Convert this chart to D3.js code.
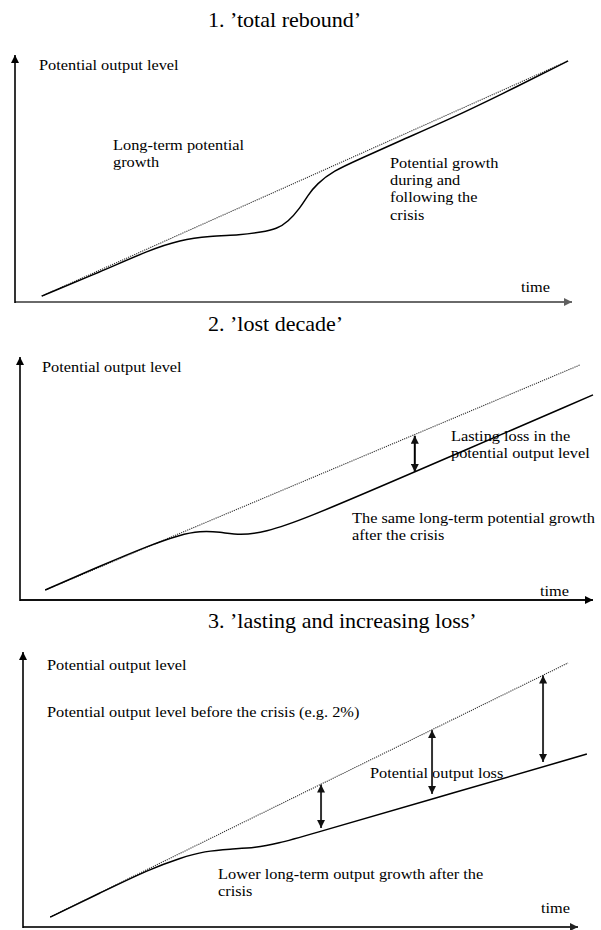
<!DOCTYPE html>
<html><head><meta charset="utf-8">
<script src="https://cdn.jsdelivr.net/npm/d3@7"></script>
<style>html,body{margin:0;padding:0;background:#fff}svg{display:block}</style>
</head><body><svg id="c" width="601" height="930"></svg>
<script>
// ---------------- data (time 0-100, potential output level 0-100) ----------------
const titles = ["1. \u2019total rebound\u2019", "2. \u2019lost decade\u2019", "3. \u2019lasting and increasing loss\u2019"];

// Panel 1: total rebound
const trend1T = [4.8, 99.3];
const trend1V = [2.4, 97.6];
const path1T = [4.8, 15.3, 24.2, 29.6, 35.0, 40.4, 44.3, 47.0, 49.0, 51.2, 52.6, 54.2, 57.1, 61.9, 69.1, 78.1, 87.1, 99.3];
const path1V = [2.4, 12.2, 21.1, 25.1, 26.7, 27.1, 28.3, 29.6, 32.4, 38.1, 43.3, 47.8, 53.0, 57.9, 65.2, 74.1, 83.8, 97.6];

// Panel 2: lost decade
const trend2T = [4.4, 97.7];
const trend2V = [4.1, 96.7];
const path2T = [4.4, 14.0, 22.7, 27.9, 31.4, 34.9, 38.4, 42.8, 48.9, 68.9, 100.0];
const path2V = [4.1, 14.0, 22.6, 26.8, 28.4, 28.0, 26.6, 28.0, 32.5, 52.7, 84.4];
const loss2T = [68.9];
const loss2Top = [67.6];
const loss2Bottom = [52.7];

// Panel 3: lasting and increasing loss
const trend3T = [4.9, 98.2];
const trend3V = [3.6, 96.0];
const path3T = [4.9, 13.9, 22.9, 28.3, 32.8, 37.3, 41.8, 46.3, 49.9, 73.9, 101.6];
const path3V = [3.6, 12.4, 21.1, 25.1, 27.6, 28.4, 28.7, 30.6, 32.6, 46.6, 62.9];
const loss3T = [53.7, 73.7, 93.7];
const loss3Top = [51.8, 71.6, 91.5];
const loss3Bottom = [36.0, 48.4, 60.0];

// ---------------- layout ----------------
const svg = d3.select("#c");
const FONT = "'Liberation Serif','Times New Roman',Times,serif";
const STRETCH = 1.075;   // the reference's lettering is slightly wide
const defs = svg.append("defs");
function marker(id, color, w, h) {
  defs.append("marker").attr("id", id).attr("viewBox", "0 0 10 10")
    .attr("refX", 10).attr("refY", 5).attr("markerUnits", "userSpaceOnUse")
    .attr("markerWidth", w).attr("markerHeight", h).attr("orient", "auto-start-reverse")
    .append("path").attr("d", "M0,0 L10,5 L0,10 Z").attr("fill", color);
}
marker("ahBlack", "#000", 9, 8);
marker("ahGray", "#606060", 9, 8);
marker("ahDark", "#222", 9, 8);
marker("ahLoss", "#111", 9, 8);

const panels = [
  { frame: { x0: 15, x1: 572, y0: 302, y1: 55 }, titleY: 27, xAxisColor: "#6a6a6a", xMarker: "ahGray",
    trendT: trend1T, trendV: trend1V, pathT: path1T, pathV: path1V, lossT: [], lossTop: [], lossBottom: [],
    labels: [
      { x: 39, y: 70, lines: ["Potential output level"] },
      { x: 113, y: 150, lines: ["Long-term potential", "growth"] },
      { x: 390, y: 168, lines: ["Potential growth", "during and", "following the", "crisis"] },
      { x: 521, y: 292, lines: ["time"] }
    ] },
  { frame: { x0: 20, x1: 593, y0: 600, y1: 357 }, titleY: 331, xAxisColor: "#111", xMarker: "ahBlack",
    trendT: trend2T, trendV: trend2V, pathT: path2T, pathV: path2V, lossT: loss2T, lossTop: loss2Top, lossBottom: loss2Bottom,
    labels: [
      { x: 42, y: 372, lines: ["Potential output level"] },
      { x: 451, y: 441, lines: ["Lasting loss in the", "potential output level"] },
      { x: 352, y: 523, lines: ["The same long-term potential growth", "after the crisis"] },
      { x: 540, y: 596, lines: ["time"] }
    ] },
  { frame: { x0: 23, x1: 578, y0: 927, y1: 652 }, titleY: 628, xAxisColor: "#333", xMarker: "ahDark",
    trendT: trend3T, trendV: trend3V, pathT: path3T, pathV: path3V, lossT: loss3T, lossTop: loss3Top, lossBottom: loss3Bottom,
    labels: [
      { x: 47, y: 670, lines: ["Potential output level"] },
      { x: 47, y: 717, lines: ["Potential output level before the crisis (e.g. 2%)"] },
      { x: 370, y: 778, lines: ["Potential output loss"] },
      { x: 218, y: 879, lines: ["Lower long-term output growth after the", "crisis"] },
      { x: 541, y: 913, lines: ["time"] }
    ] }
];

panels.forEach((p, i) => {
  const f = p.frame;
  const x = d3.scaleLinear().domain([0, 100]).range([f.x0, f.x1]);
  const y = d3.scaleLinear().domain([0, 100]).range([f.y0, f.y1]);
  const g = svg.append("g");

  // title
  g.append("text").attr("transform", `translate(208,${p.titleY}) scale(1.05,1)`)
    .attr("font-family", FONT).attr("font-size", 21).attr("fill", "#000")
    .text(titles[i]);

  // axes
  g.append("line").attr("x1", x(0)).attr("y1", y(0)).attr("x2", x(100)).attr("y2", y(0))
    .attr("stroke", p.xAxisColor).attr("stroke-width", 2).attr("marker-end", `url(#${p.xMarker})`);
  g.append("line").attr("x1", x(0)).attr("y1", y(0) + 1).attr("x2", x(0)).attr("y2", y(100))
    .attr("stroke", "#000").attr("stroke-width", 1.6).attr("marker-end", "url(#ahBlack)");

  // trend (dotted)
  const trend = p.trendT.map((t, k) => [t, p.trendV[k]]);
  g.append("path").datum(trend)
    .attr("d", d3.line().x(d => x(d[0])).y(d => y(d[1])))
    .attr("fill", "none").attr("stroke", "#333").attr("stroke-width", 1.1)
    .attr("stroke-dasharray", "1.2,1");

  // actual potential path (solid)
  const pts = p.pathT.map((t, k) => [t, p.pathV[k]]);
  g.append("path").datum(pts)
    .attr("d", d3.line().curve(d3.curveBasis).x(d => x(d[0])).y(d => y(d[1])))
    .attr("fill", "none").attr("stroke", "#000").attr("stroke-width", 1.5);

  // labels
  p.labels.forEach(l => {
    const t = g.append("text").attr("transform", `translate(${l.x},${l.y}) scale(${STRETCH},1)`)
      .attr("font-family", FONT).attr("font-size", 15.2).attr("fill", "#000");
    l.lines.forEach((s, k) => t.append("tspan").attr("x", 0).attr("y", k * 17.2).text(s));
  });

  // loss arrows
  p.lossT.forEach((t, k) => {
    g.append("line").attr("x1", x(t)).attr("x2", x(t))
      .attr("y1", y(p.lossTop[k])).attr("y2", y(p.lossBottom[k]))
      .attr("stroke", i === 2 ? "#333" : "#000").attr("stroke-width", 2)
      .attr("marker-start", "url(#ahLoss)").attr("marker-end", "url(#ahLoss)");
  });
});
</script>
</body></html>
